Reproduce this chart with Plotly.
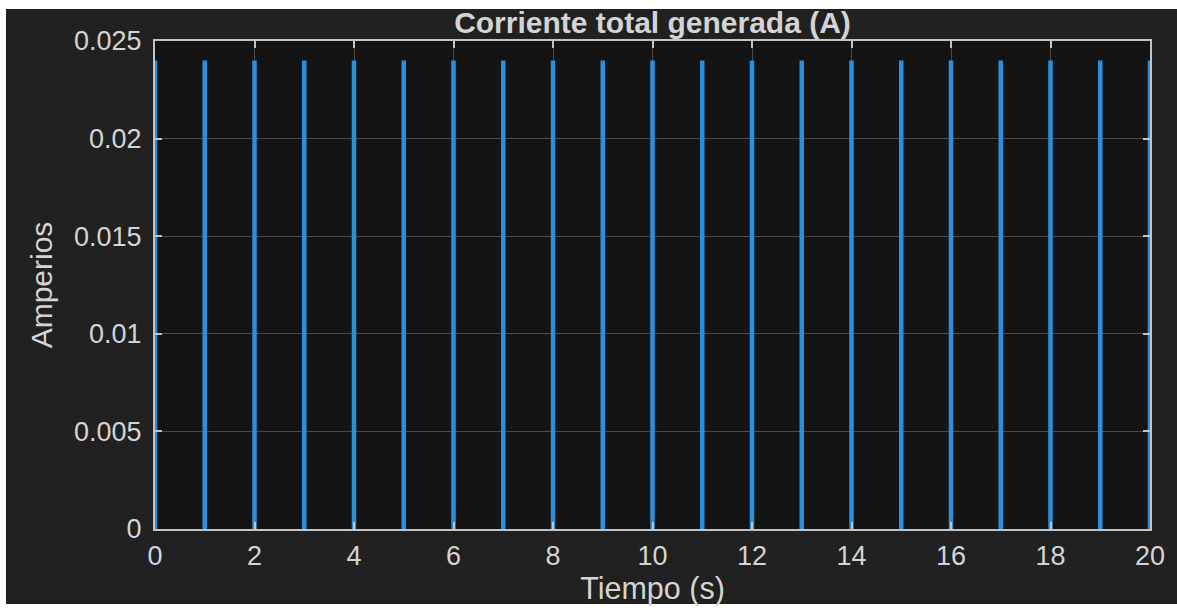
import plotly.graph_objects as go

# ---------------- data ----------------
pulse_times = list(range(0, 21))          # s, one pulse every second
pulse_peak = 0.024                         # A
x_ticks = list(range(0, 21, 2))
y_ticks = [0, 0.005, 0.01, 0.015, 0.02, 0.025]
y_tick_labels = ["0", "0.005", "0.01", "0.015", "0.02", "0.025"]

title_text = "Corriente total generada (A)"
x_title = "Tiempo (s)"
y_title = "Amperios"

# build the pulse signal: a vertical spike from 0 to the peak at each pulse time
sig_t, sig_i = [], []
for t in pulse_times:
    sig_t += [t, t, None]
    sig_i += [0, pulse_peak, None]

# ---------------- style ----------------
W, H = 1177, 610
L, R, T, B = 155, 27, 41, 81
FONT = "Liberation Sans, Arial, sans-serif"
TXT = "#d4d4d4"
AX = "#c4c4c4"
GRID = "#4a4a4a"
BLUE = "#2a8fdf"

fig = go.Figure()
fig.add_trace(go.Scatter(
    x=sig_t, y=sig_i, mode="lines", connectgaps=False,
    line=dict(color=BLUE, width=4.5),
    hoverinfo="skip", showlegend=False,
))

axis_common = dict(
    showline=True, linecolor=AX, linewidth=2, mirror="ticks",
    ticks="inside", ticklen=7, tickwidth=1.5, tickcolor=AX,
    showgrid=True, gridcolor=GRID, gridwidth=1, zeroline=False,
    tickfont=dict(family=FONT, size=27, color=TXT),
)

fig.update_xaxes(
    range=[0, 20], tickmode="array", tickvals=x_ticks,
    title=dict(text=x_title, font=dict(family=FONT, size=30.5, color=TXT), standoff=5),
    ticklabelstandoff=2,
    **axis_common,
)
fig.update_yaxes(
    range=[0, 0.025], tickmode="array", tickvals=y_ticks, ticktext=y_tick_labels,
    title=dict(text=y_title, font=dict(family=FONT, size=30, color=TXT), standoff=13),
    ticklabelstandoff=6,
    **axis_common,
)

# white screenshot border strips (outside the dark figure)
pw, ph = W - L - R, H - T - B
def px_x(p):
    return (p - L) / pw
def px_y(p):
    return (H - B - p) / ph

shapes = [
    dict(type="rect", xref="paper", yref="paper", x0=-0.3, x1=1.3,
         y0=px_y(9), y1=1.3, fillcolor="white", line_width=0, layer="above"),
    dict(type="rect", xref="paper", yref="paper", x0=-0.3, x1=px_x(6),
         y0=-0.3, y1=1.3, fillcolor="white", line_width=0, layer="above"),
    dict(type="rect", xref="paper", yref="paper", x0=-0.3, x1=1.3,
         y0=-0.3, y1=px_y(604), fillcolor="white", line_width=0, layer="above"),
]

fig.update_layout(
    width=W, height=H,
    margin=dict(l=L, r=R, t=T, b=B, autoexpand=False),
    paper_bgcolor="#212121",
    plot_bgcolor="#141414",
    title=dict(text="<b>" + title_text + "</b>", x=(L + pw / 2) / W, xanchor="center",
               xref="container", y=1 - 22 / H, yanchor="middle", yref="container",
               font=dict(family=FONT, size=30, color=TXT)),
    shapes=shapes,
    showlegend=False,
)

fig.write_html(
    "out.html",
    config={"displayModeBar": False},
    post_script="document.body.style.margin='0';document.body.style.overflow='hidden';",
)
